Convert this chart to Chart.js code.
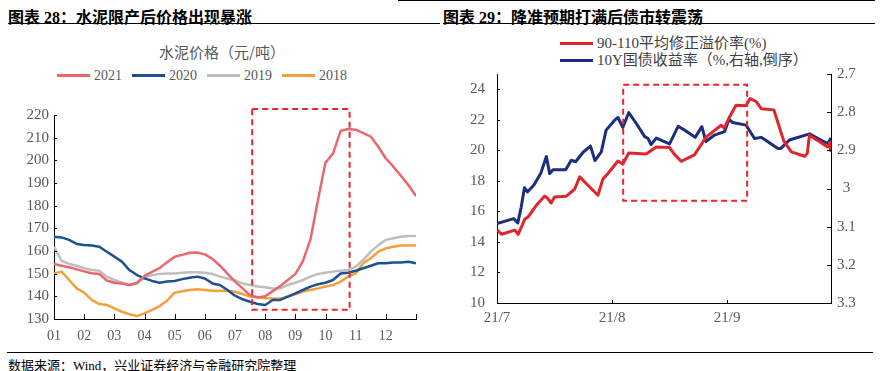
<!DOCTYPE html>
<html lang="zh-CN">
<head>
<meta charset="UTF-8">
<title>水泥价格与债市</title>
<script src="https://cdn.jsdelivr.net/npm/chart.js@4.4.1/dist/chart.umd.min.js"></script>
<style>
  html, body { margin: 0; background: #fff; }
  .page { position: relative; width: 883px; height: 371px; overflow: hidden; }
  .fig-title { position: absolute; top: 4px; line-height: 20px; font: bold 16px "Liberation Serif", "Noto Sans CJK SC", serif; color: #000; white-space: nowrap; }
  .rule { position: absolute; height: 0; border-top: 1.5px solid #000; }
  .chart-title { position: absolute; left: 0; width: 444px; top: 41px; line-height: 20px; text-align: center; font: 15px "Noto Sans CJK SC", sans-serif; color: #595959; }
  .legend { position: absolute; font: 14px "Liberation Serif", "Noto Sans CJK SC", serif; white-space: nowrap; }
  .legend .item { display: inline-flex; align-items: center; margin-right: 10px; }
  .legend .swatch { display: inline-block; width: 33px; height: 3px; margin-right: 4px; }
  #legendL { left: 57px; top: 64px; line-height: 18px; color: #595959; }
  #legendR { left: 560px; top: 35px; line-height: 17px; font-size: 15px; color: #404040; }
  #legendR .item { display: flex; margin: 0; }
  canvas { position: absolute; }
  #cementChart { left: 0; top: 90px; }
  #bondChart { left: 440px; top: 66px; }
  .source { position: absolute; left: 8px; top: 355px; line-height: 16px; font: 13px "Liberation Serif", "Noto Sans CJK SC", serif; color: #000; }
</style>
</head>
<body>
<div class="page">
  <div class="rule" style="left:398px; top:0; width:477px;"></div>
  <div class="fig-title" style="left:8px;">图表 28：水泥限产后价格出现暴涨</div>
  <div class="fig-title" style="left:443px;">图表 29：降准预期打满后债市转震荡</div>
  <div class="rule" style="left:8px; top:23px; width:432px;"></div>
  <div class="rule" style="left:443px; top:23px; width:432px;"></div>

  <div class="chart-title">水泥价格（元/吨）</div>
  <div class="legend" id="legendL"></div>
  <canvas id="cementChart" width="440" height="260"></canvas>

  <div class="legend" id="legendR"></div>
  <canvas id="bondChart" width="443" height="274"></canvas>

  <div class="rule" style="left:7px; top:352px; width:866px;"></div>
  <div class="source">数据来源：Wind，兴业证券经济与金融研究院整理</div>
</div>

<script>
// ---- left chart: cement price, one value every quarter month ----
const monthLabels = ['01', '02', '03', '04', '05', '06', '07', '08', '09', '10', '11', '12'];
const monthPos = Array.from({ length: 49 }, (_, i) => i / 4);

const cement2021 = [154.3, 153.5, 152.8, 151.9, 151.0, 150.2, 149.9, 147.0, 146.0, 145.7,
  145.0, 146.0, 149.0, 150.8, 152.5, 155.0, 157.5, 158.3, 159.2, 159.3,
  158.5, 156.5, 153.5, 150.0, 146.5, 143.5, 140.5, 139.5, 140.0, 142.3,
  144.5, 147.2, 149.8, 155.5, 165.0, 182.5, 199.0, 203.0, 213.0, 213.8,
  213.5, 212.0, 210.5, 206.0, 200.8, 197.2, 193.2, 189.0, 184.3];
const cement2020 = [166.3, 166.0, 164.9, 163.1, 162.6, 162.4, 161.9, 159.7, 157.5, 155.3,
  151.6, 149.4, 147.9, 146.8, 146.0, 146.5, 146.8, 147.6, 148.2, 148.7,
  147.9, 145.7, 145.0, 142.8, 140.3, 138.7, 137.6, 136.6, 136.2, 138.4,
  138.4, 139.9, 141.3, 142.8, 144.3, 145.3, 146.0, 147.2, 150.1, 150.4,
  151.3, 152.4, 153.5, 154.6, 154.6, 154.9, 154.9, 155.3, 154.6];
const cement2019 = [161.9, 155.7, 154.3, 153.5, 152.4, 151.6, 151.3, 148.7, 147.2, 146.0,
  145.0, 145.7, 148.4, 149.3, 149.9, 150.1, 150.1, 150.4, 150.6, 150.6,
  150.4, 149.9, 148.7, 147.9, 147.0, 145.7, 145.0, 144.3, 144.0, 143.5,
  143.5, 145.0, 146.0, 147.2, 148.7, 149.9, 150.4, 150.9, 151.3, 151.6,
  153.1, 156.0, 159.7, 162.6, 164.9, 165.6, 166.3, 166.6, 166.6];
const cement2018 = [150.1, 150.9, 147.2, 143.5, 141.6, 138.4, 136.6, 136.2, 134.7, 133.2,
  132.1, 131.3, 132.5, 134.0, 135.7, 138.1, 141.6, 142.2, 142.8, 143.1,
  142.8, 142.5, 142.5, 142.5, 142.0, 141.0, 139.9, 139.6, 139.1, 139.0,
  139.0, 139.9, 140.9, 142.1, 142.8, 143.5, 144.3, 145.0, 146.5, 148.7,
  150.1, 154.6, 156.8, 159.7, 161.2, 161.9, 162.4, 162.4, 162.4];

// ---- right chart: days since 2021-07-01 ----
const dayTicks = [0, 31, 62];
const dayLabels = ['21/7', '21/8', '21/9'];
const premDays = [0, 1.2, 4.8, 5.7, 7.5, 8.4, 10.6, 12.8, 13.7, 14.6,
  15.5, 18.7, 20.9, 22.3, 24.5, 27.2, 28.5, 29.9, 32.6, 33.9,
  35.5, 40.2, 42.9, 46.5, 47.8, 49.6, 53.2, 56.4, 60.4, 61.2,
  62.7, 64.4, 67.1, 68.2, 69.8, 71.2, 74.6, 77.3, 79.3, 82.9,
  83.6, 84.2, 89.1, 89.6, 90];
const premRate = [14.8, 14.5, 14.77, 14.5, 15.5, 15.64, 16.4, 17.0, 16.84, 16.55,
  16.95, 17.0, 17.45, 18.26, 17.71, 17.06, 18.1, 18.48, 19.3, 19.1,
  19.83, 19.76, 20.22, 20.18, 19.74, 19.28, 19.7, 20.88, 21.64, 21.45,
  22.2, 22.95, 22.92, 23.39, 23.2, 22.73, 22.65, 20.6, 19.9, 19.61,
  19.8, 20.99, 20.22, 20.5, 19.9];
const yieldDays = [0, 2, 4.5, 5.6, 6.5, 7.4, 8.2, 10, 11.8, 13.3,
  14.2, 15.1, 18.5, 20, 21.2, 23.2, 25.2, 26.4, 28.1, 29.4,
  31.7, 32.6, 33.9, 35.5, 37.5, 39.8, 40.7, 41.5, 42.9, 46.5,
  48.8, 50.2, 53.4, 55.2, 56.3, 58.6, 61.3, 62.5, 63.5, 67.1,
  69.4, 71.2, 75.7, 76.5, 78.8, 84.2, 86.9, 89.1, 90];
const yieldRate = [3.092, 3.086, 3.079, 3.090, 3.05, 2.998, 3.009, 2.99, 2.96, 2.916,
  2.961, 2.951, 2.951, 2.926, 2.930, 2.905, 2.889, 2.927, 2.904, 2.847,
  2.821, 2.814, 2.840, 2.801, 2.829, 2.864, 2.869, 2.885, 2.868, 2.883,
  2.837, 2.845, 2.866, 2.838, 2.877, 2.860, 2.851, 2.819, 2.827, 2.834,
  2.869, 2.866, 2.895, 2.895, 2.873, 2.857, 2.871, 2.882, 2.868];
const leftTicks = [10, 12, 14, 16, 18, 20, 22, 24];
const rightTicks = [2.7, 2.8, 2.9, 3.0, 3.1, 3.2, 3.3];

Chart.defaults.font.family = '"Liberation Serif", "Noto Sans CJK SC", serif';
Chart.defaults.color = '#595959';

const pts = (xs, ys) => xs.map((x, i) => ({ x: x, y: ys[i] }));

// small tick marks drawn on the inside of the axes
function innerTicks(lens) {
  return {
    id: 'innerTicks',
    afterDraw(chart) {
      const ctx = chart.ctx;
      ctx.save();
      ctx.strokeStyle = '#000';
      ctx.lineWidth = 1;
      Object.keys(lens).forEach(id => {
        const s = chart.scales[id];
        const len = lens[id];
        s.ticks.forEach(t => {
          const p = Math.round(s.getPixelForValue(t.value)) + 0.5;
          ctx.beginPath();
          if (s.isHorizontal()) { ctx.moveTo(p, s.top); ctx.lineTo(p, s.top - len); }
          else if (s.position === 'left') { ctx.moveTo(s.right, p); ctx.lineTo(s.right + len, p); }
          else { ctx.moveTo(s.left, p); ctx.lineTo(s.left - len, p); }
          ctx.stroke();
        });
      });
      ctx.restore();
    }
  };
}

// red dashed highlight box, given in data units
function dashBox(box) {
  return {
    id: 'dashBox',
    afterDatasetsDraw(chart) {
      const sx = chart.scales[box.xAxis], sy = chart.scales[box.yAxis];
      const x0 = sx.getPixelForValue(box.x[0]), x1 = sx.getPixelForValue(box.x[1]);
      const y0 = sy.getPixelForValue(box.y[0]), y1 = sy.getPixelForValue(box.y[1]);
      const ctx = chart.ctx;
      ctx.save();
      ctx.strokeStyle = '#E8262B';
      ctx.lineWidth = 2;
      ctx.setLineDash([6, 4]);
      ctx.strokeRect(x0, y1, x1 - x0, y0 - y1);
      ctx.restore();
    }
  };
}

function lineSet(label, data, color, width, axis) {
  return {
    label: label, data: data, yAxisID: axis || 'y',
    borderColor: color, backgroundColor: color, borderWidth: width,
    pointRadius: 0, tension: 0, borderJoinStyle: 'round', fill: false
  };
}

function buildLegend(el, chart) {
  chart.data.datasets.forEach(ds => {
    const item = document.createElement('div');
    item.className = 'item';
    const sw = document.createElement('span');
    sw.className = 'swatch';
    sw.style.background = ds.borderColor;
    item.appendChild(sw);
    item.appendChild(document.createTextNode(ds.label));
    el.appendChild(item);
  });
}

// fixed axis sizes; label overhang must not push the plot area around
const fixY = w => s => { s.width = w; s.paddingTop = 0; s.paddingBottom = 0; };
const fixX = h => s => { s.height = h; s.paddingLeft = 0; s.paddingRight = 0; };

const axisBorder = { color: '#000', width: 1 };
const noGrid = { drawOnChartArea: false, drawTicks: false };

const cementChart = new Chart(document.getElementById('cementChart'), {
  type: 'line',
  data: {
    datasets: [
      lineSet('2021', pts(monthPos, cement2021), '#E9686B', 2.5),
      lineSet('2020', pts(monthPos, cement2020), '#1C5294', 2.5),
      lineSet('2019', pts(monthPos, cement2019), '#BEBEBE', 2.5),
      lineSet('2018', pts(monthPos, cement2018), '#F3A03B', 2.5)
    ]
  },
  options: {
    responsive: false,
    animation: false,
    layout: { padding: { top: 25, right: 24, left: 0, bottom: 0 } },
    plugins: { legend: { display: false }, tooltip: { enabled: false } },
    scales: {
      x: {
        type: 'linear', min: 0, max: 12,
        afterBuildTicks: s => { s.ticks = Array.from({ length: 13 }, (_, i) => ({ value: i })); },
        afterFit: fixX(31),
        ticks: { callback: v => monthLabels[v] || '', autoSkip: false, maxRotation: 0, padding: 9, font: { size: 14 } },
        grid: noGrid, border: axisBorder
      },
      y: {
        min: 130, max: 220,
        afterFit: fixY(54),
        ticks: { stepSize: 10, padding: 5, font: { size: 15 } },
        grid: noGrid, border: axisBorder
      }
    }
  },
  plugins: [innerTicks({ x: 5, y: 3 }), dashBox({ xAxis: 'x', yAxis: 'y', x: [6.57, 9.8], y: [134.1, 222.6] })]
});
buildLegend(document.getElementById('legendL'), cementChart);

const bondChart = new Chart(document.getElementById('bondChart'), {
  type: 'line',
  data: {
    datasets: [
      lineSet('90-110平均修正溢价率(%)', pts(premDays, premRate), '#E1262B', 3, 'y'),
      lineSet('10Y国债收益率（%,右轴,倒序）', pts(yieldDays, yieldRate), '#1B2E80', 3, 'y1')
    ]
  },
  options: {
    responsive: false,
    animation: false,
    layout: { padding: { top: 8, right: 0, left: 0, bottom: 0 } },
    plugins: { legend: { display: false }, tooltip: { enabled: false } },
    scales: {
      x: {
        type: 'linear', min: 0, max: 90,
        afterBuildTicks: s => { s.ticks = dayTicks.map(v => ({ value: v })); },
        afterFit: fixX(37),
        ticks: { callback: v => dayLabels[dayTicks.indexOf(v)] || '', autoSkip: false, maxRotation: 0, padding: 6, font: { size: 15 } },
        grid: noGrid, border: axisBorder
      },
      y: {
        position: 'left', min: 10, max: 25,
        afterBuildTicks: s => { s.ticks = leftTicks.map(v => ({ value: v })); },
        afterFit: fixY(57),
        ticks: { padding: 12, font: { size: 15 } },
        grid: noGrid, border: axisBorder
      },
      y1: {
        position: 'right', min: 2.7, max: 3.3, reverse: true,
        afterBuildTicks: s => { s.ticks = rightTicks.map(v => ({ value: v })); },
        afterFit: fixY(52),
        ticks: { callback: v => String(Math.round(v * 10) / 10), crossAlign: 'center', padding: 6, font: { size: 15 } },
        grid: noGrid, border: axisBorder
      }
    }
  },
  plugins: [innerTicks({ x: 3, y: 3, y1: 4 }), dashBox({ xAxis: 'x', yAxis: 'y', x: [34, 67.4], y: [16.7, 24.3] })]
});
buildLegend(document.getElementById('legendR'), bondChart);
</script>
</body>
</html>
